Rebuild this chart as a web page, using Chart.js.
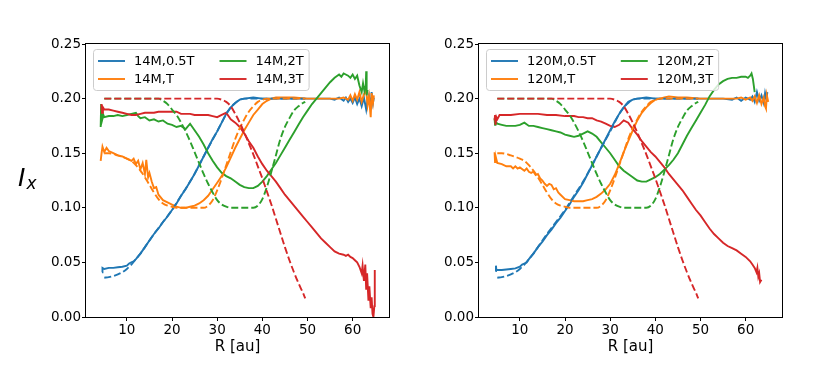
<!DOCTYPE html>
<html lang="en">
<head>
<meta charset="UTF-8">
<title>I_x radial profiles</title>
<script src="https://cdn.jsdelivr.net/npm/chart.js"></script>
<style>
  body { margin: 0; background: #fff; }
  #fig { position: relative; width: 831px; height: 366px; }
  .panel { position: absolute; top: 0; width: 393px; height: 366px; }
  #ylab { position: absolute; left: 18px; top: 165px; font: italic 25px "DejaVu Sans"; line-height: 25px; color: #000; }
  #ylab span { font-size: 17px; position: relative; top: 3px; left: 1px; }
</style>
</head>
<body>
<div id="fig">
  <div class="panel" style="left:0"><canvas id="left"></canvas></div>
  <div class="panel" style="left:393px"><canvas id="right"></canvas></div>
  <div id="ylab">I<span>x</span></div>
</div>
<script>
// axis ticks
const xTicks = [10, 20, 30, 40, 50, 60];
const yTicks = [0, 0.05, 0.10, 0.15, 0.20, 0.25];

// model profiles (dashed), [R au, I_x] - same in both panels
const model05T = [[5,0.036],[6,0.0365],[7,0.0375],[8,0.039],[9,0.041],[10,0.044],[11,0.048],[12,0.053],[13,0.058],[14,0.064],[15,0.070],[16,0.076],[18,0.087],[20,0.098],[22,0.111],[24,0.124],[26,0.139],[28,0.155],[30,0.170],[31,0.178],[32,0.186],[33,0.192],[34,0.196],[35,0.199],[36,0.200],[49.5,0.200]];
const modelT = [[5,0.150],[6,0.150],[8,0.148],[10,0.145],[11,0.143],[12,0.139],[13,0.134],[14,0.128],[15,0.121],[16,0.114],[17,0.108],[18,0.104],[19,0.102],[20,0.101],[21,0.100],[27,0.100],[28,0.102],[29,0.107],[30,0.116],[31,0.127],[32,0.139],[33,0.151],[34,0.163],[35,0.173],[36,0.181],[37,0.188],[38,0.193],[39,0.197],[40,0.199],[41,0.200],[49.5,0.200]];
const model2T = [[5,0.200],[17,0.200],[18,0.198],[19,0.195],[20,0.190],[21,0.185],[22,0.178],[23,0.170],[24,0.161],[25,0.151],[26,0.141],[27,0.131],[28,0.122],[29,0.114],[30,0.107],[31,0.103],[32,0.101],[33,0.100],[38,0.100],[39,0.102],[40,0.108],[41,0.119],[42,0.133],[43,0.148],[44,0.163],[45,0.174],[46,0.182],[47,0.189],[48,0.193],[49,0.196],[49.5,0.197]];
const model3T = [[5,0.200],[30,0.200],[31,0.199],[32,0.197],[33,0.193],[34,0.186],[35,0.178],[36,0.169],[37,0.159],[38,0.149],[39,0.138],[40,0.127],[41,0.115],[42,0.103],[43,0.090],[44,0.077],[45,0.064],[46,0.052],[47,0.041],[48,0.031],[49,0.022],[49.5,0.017]];

// 14M panel (solid)
const m14_05T = [[4.5,0.041],[4.6,0.045],[5,0.044],[6,0.045],[7,0.045],[8,0.0455],[9,0.046],[10,0.047],[10.5,0.049],[11,0.050],[11.5,0.051],[12,0.053],[13,0.058],[14,0.064],[15,0.070],[16,0.076],[17,0.081],[18,0.087],[19,0.092],[20,0.098],[21,0.104],[22,0.111],[23,0.117],[24,0.124],[25,0.131],[26,0.139],[27,0.147],[28,0.155],[29,0.163],[30,0.170],[31,0.178],[32,0.186],[33,0.192],[34,0.196],[35,0.199],[36,0.200],[38,0.201],[40,0.200],[45,0.200],[50,0.200],[55,0.200],[56,0.199],[57,0.201],[58,0.198],[58.5,0.201],[59,0.197],[59.5,0.200],[60,0.196],[60.5,0.201],[61,0.195],[61.5,0.200],[62,0.193],[62.5,0.201],[63,0.190],[63.3,0.199],[63.6,0.203],[64,0.190],[64.2,0.206],[64.5,0.196],[64.7,0.201]];
const m14_T = [[4.2,0.143],[4.4,0.150],[4.6,0.156],[5,0.151],[5.5,0.155],[6,0.152],[7,0.150],[8,0.148],[9,0.147],[10,0.145],[11,0.143],[11.5,0.145],[12,0.140],[12.5,0.143],[13,0.135],[13.5,0.141],[14,0.131],[14.3,0.144],[14.7,0.128],[15,0.132],[15.5,0.124],[16,0.118],[16.5,0.119],[17,0.112],[18,0.107],[19,0.105],[20,0.103],[21,0.101],[22,0.100],[23,0.100],[24,0.101],[25,0.102],[26,0.104],[27,0.107],[28,0.111],[29,0.117],[30,0.123],[31,0.129],[32,0.137],[33,0.146],[34,0.155],[35,0.163],[36,0.171],[37,0.178],[38,0.185],[39,0.190],[40,0.195],[41,0.198],[42,0.200],[43,0.201],[45,0.201],[47,0.201],[50,0.200],[55,0.200],[57,0.200],[58,0.201],[59,0.199],[59.5,0.203],[60,0.198],[60.5,0.204],[61,0.199],[61.5,0.206],[62,0.197],[62.5,0.204],[63,0.207],[63.3,0.194],[63.6,0.202],[64,0.183],[64.2,0.205],[64.5,0.196],[64.7,0.203]];
const m14_2T = [[4.2,0.174],[4.3,0.195],[4.5,0.180],[4.8,0.185],[5,0.183],[6,0.184],[7,0.184],[8,0.185],[9,0.184],[10,0.185],[11,0.186],[12,0.187],[12.5,0.184],[13,0.182],[14,0.183],[15,0.180],[16,0.181],[17,0.179],[18,0.180],[19,0.177],[20,0.176],[21,0.174],[22,0.175],[23,0.172],[24,0.177],[25,0.171],[26,0.165],[27,0.158],[28,0.150],[29,0.143],[30,0.137],[31,0.132],[32,0.129],[33,0.127],[34,0.124],[35,0.121],[36,0.119],[37,0.118],[38,0.118],[39,0.120],[40,0.124],[41,0.129],[42,0.135],[43,0.141],[44,0.148],[45,0.155],[46,0.162],[47,0.169],[48,0.176],[49,0.183],[50,0.189],[51,0.195],[52,0.200],[53,0.205],[54,0.210],[55,0.215],[56,0.219],[57,0.222],[57.5,0.220],[58,0.223],[59,0.221],[59.5,0.219],[60,0.222],[60.5,0.218],[61,0.221],[61.5,0.212],[62,0.206],[62.3,0.214],[62.6,0.207],[62.9,0.212],[63.0,0.225],[63.1,0.203],[63.3,0.208]];
const m14_3T = [[4.3,0.190],[4.4,0.195],[4.5,0.187],[4.7,0.192],[5,0.190],[6,0.190],[7,0.189],[8,0.188],[9,0.187],[10,0.186],[11,0.185],[12,0.185],[13,0.186],[14,0.187],[15,0.187],[16,0.187],[17,0.188],[18,0.188],[19,0.188],[20,0.188],[21,0.188],[22,0.186],[23,0.186],[24,0.186],[25,0.185],[26,0.185],[27,0.185],[28,0.185],[29,0.184],[30,0.183],[31,0.185],[32,0.187],[33,0.181],[34,0.178],[35,0.174],[36,0.168],[37,0.161],[38,0.155],[39,0.147],[40,0.140],[41,0.134],[42,0.129],[43,0.124],[44,0.118],[45,0.112],[46,0.107],[47,0.102],[48,0.097],[49,0.092],[50,0.087],[51,0.082],[52,0.077],[53,0.072],[54,0.068],[55,0.064],[56,0.060],[57,0.058],[58,0.057],[58.5,0.056],[59,0.057],[59.5,0.055],[60,0.054],[60.5,0.052],[61,0.050],[61.5,0.046],[62,0.040],[62.2,0.047],[62.5,0.033],[62.8,0.048],[63,0.025],[63.2,0.040],[63.5,0.015],[63.7,0.028],[64,0.008],[64.2,0.018],[64.4,0.003],[64.6,0.000],[64.8,0.010],[64.9,0.043]];

// 120M panel (solid)
const m120_05T = [[4.6,0.042],[4.7,0.047],[4.8,0.043],[5,0.043],[6,0.043],[7,0.0435],[8,0.044],[9,0.0445],[10,0.046],[10.5,0.048],[11,0.049],[11.5,0.050],[12,0.053],[13,0.058],[14,0.064],[15,0.069],[16,0.075],[17,0.080],[18,0.086],[19,0.091],[20,0.097],[21,0.103],[22,0.110],[23,0.116],[24,0.123],[25,0.131],[26,0.139],[27,0.147],[28,0.155],[29,0.163],[30,0.171],[31,0.179],[32,0.186],[33,0.192],[34,0.197],[35,0.199],[36,0.200],[38,0.201],[40,0.200],[45,0.200],[50,0.200],[55,0.200],[57,0.199],[58,0.201],[59,0.198],[60,0.201],[61,0.199],[61.5,0.202],[62,0.197],[62.5,0.206],[63,0.198],[63.5,0.203],[64,0.196],[64.3,0.205],[64.6,0.199],[64.8,0.206]];
const m120_T = [[4.4,0.151],[4.5,0.142],[4.7,0.146],[5,0.141],[6,0.140],[7,0.138],[8,0.138],[8.5,0.136],[9,0.138],[9.5,0.136],[10,0.137],[11,0.134],[11.5,0.136],[12,0.133],[12.5,0.132],[13,0.133],[13.5,0.130],[14,0.131],[14.5,0.127],[15,0.125],[15.5,0.122],[16,0.120],[16.5,0.122],[17,0.121],[17.5,0.117],[18,0.118],[18.5,0.114],[19,0.112],[20,0.108],[21,0.107],[22,0.106],[23,0.106],[24,0.106],[25,0.107],[26,0.108],[27,0.110],[28,0.113],[29,0.117],[30,0.122],[31,0.130],[32,0.140],[33,0.151],[34,0.161],[35,0.171],[36,0.180],[37,0.187],[38,0.192],[39,0.196],[40,0.199],[41,0.200],[42,0.201],[43,0.202],[45,0.201],[47,0.201],[50,0.200],[55,0.200],[58,0.200],[59,0.201],[60,0.199],[61,0.201],[61.5,0.198],[62,0.202],[62.5,0.196],[63,0.203],[63.5,0.195],[64,0.201],[64.3,0.193],[64.5,0.191],[64.7,0.203],[65,0.197]];
const m120_2T = [[4.4,0.182],[4.5,0.176],[4.6,0.179],[5,0.177],[6,0.176],[7,0.175],[8,0.175],[9,0.175],[10,0.176],[11,0.178],[12,0.175],[13,0.175],[14,0.174],[15,0.173],[16,0.172],[17,0.171],[18,0.170],[19,0.169],[20,0.167],[21,0.166],[22,0.165],[23,0.166],[24,0.168],[25,0.170],[26,0.168],[27,0.165],[28,0.160],[29,0.155],[30,0.150],[31,0.144],[32,0.138],[33,0.134],[34,0.131],[35,0.128],[36,0.125],[37,0.124],[38,0.124],[39,0.126],[40,0.128],[41,0.131],[42,0.135],[43,0.139],[44,0.144],[45,0.150],[46,0.158],[47,0.166],[48,0.173],[49,0.180],[50,0.187],[51,0.194],[52,0.202],[53,0.208],[54,0.213],[55,0.216],[56,0.218],[57,0.219],[58,0.219],[59,0.220],[60,0.220],[60.5,0.219],[61,0.221],[61.3,0.223],[61.6,0.218],[62,0.206]];
const m120_3T = [[4.4,0.180],[4.5,0.185],[4.6,0.176],[4.8,0.183],[5,0.181],[5.5,0.185],[6,0.185],[8,0.185],[10,0.186],[12,0.186],[14,0.186],[16,0.185],[18,0.185],[20,0.184],[22,0.184],[23,0.183],[24,0.183],[25,0.182],[26,0.182],[27,0.180],[28,0.179],[29,0.177],[30,0.175],[31,0.174],[32,0.176],[33,0.180],[34,0.178],[35,0.172],[36,0.167],[37,0.161],[38,0.156],[39,0.151],[40,0.147],[41,0.142],[42,0.137],[43,0.131],[44,0.126],[45,0.121],[46,0.116],[47,0.110],[48,0.104],[49,0.098],[50,0.093],[51,0.087],[52,0.081],[53,0.076],[54,0.072],[55,0.068],[56,0.065],[57,0.063],[58,0.061],[59,0.058],[60,0.055],[61,0.051],[61.5,0.048],[62,0.045],[62.4,0.041],[62.6,0.045],[62.8,0.037],[63,0.040],[63.2,0.032],[63.5,0.034]];

const labels14 = ['14M,0.5T', '14M,T', '14M,2T', '14M,3T'];
const labels120 = ['120M,0.5T', '120M,T', '120M,2T', '120M,3T'];
const models = [model05T, modelT, model2T, model3T];
const colors = ['#1f77b4', '#ff7f0e', '#2ca02c', '#d62728'];

Chart.defaults.font.family = '"DejaVu Sans", sans-serif';
Chart.defaults.font.size = 13.5;
Chart.defaults.color = '#000';

// box around the axes (all four spines)
const frame = {
  id: 'frame',
  afterDraw(chart) {
    const {ctx, chartArea: a} = chart;
    ctx.save();
    ctx.strokeStyle = '#000';
    ctx.lineWidth = 1;
    ctx.strokeRect(Math.round(a.left) - 0.5, Math.round(a.top) - 0.5, Math.round(a.right - a.left) + 1, Math.round(a.bottom - a.top) + 1);
    ctx.restore();
  }
};

// two-column legend inside the upper left corner
const legendBox = {
  id: 'legendBox',
  afterDatasetsDraw(chart, args, opts) {
    const {ctx, chartArea: a} = chart;
    const items = opts.items;
    ctx.save();
    ctx.font = '13px "DejaVu Sans"';
    const w = items.map(it => ctx.measureText(it.label).width);
    const col1 = Math.max(w[0], w[1]), col2 = Math.max(w[2], w[3]);
    const pad = 5, handle = 27, gap = 9, colGap = 25;
    const x0 = a.left + 7, y0 = a.top + 5;
    const boxW = pad + handle + gap + col1 + colGap + handle + gap + col2 + pad;
    const boxH = 41;
    ctx.beginPath();
    ctx.roundRect(x0 + 0.5, y0 + 0.5, boxW, boxH, 3);
    ctx.fillStyle = 'rgba(255,255,255,0.8)';
    ctx.fill();
    ctx.strokeStyle = '#cccccc';
    ctx.lineWidth = 1;
    ctx.stroke();
    items.forEach((it, i) => {
      const col = i < 2 ? 0 : 1, row = i % 2;
      const lx = x0 + pad + col * (handle + gap + col1 + colGap);
      const ly = y0 + 12 + row * 18;
      ctx.beginPath();
      ctx.moveTo(lx, ly);
      ctx.lineTo(lx + handle, ly);
      ctx.strokeStyle = it.color;
      ctx.lineWidth = 1.9;
      ctx.stroke();
      ctx.fillStyle = '#000';
      ctx.textBaseline = 'middle';
      ctx.fillText(it.label, lx + handle + gap, ly + 1);
    });
    ctx.restore();
  }
};

const toXY = arr => arr.map(p => ({x: p[0], y: p[1]}));

function makePanel(id, solids, labels) {
  const datasets = [];
  solids.forEach((s, i) => datasets.push({
    label: labels[i], data: toXY(s), borderColor: colors[i], borderWidth: 1.9,
    pointRadius: 0, fill: false, tension: 0
  }));
  models.forEach((m, i) => datasets.push({
    label: labels[i] + ' model', data: toXY(m), borderColor: colors[i], borderWidth: 1.9,
    borderDash: [7, 3], pointRadius: 0, fill: false, cubicInterpolationMode: 'monotone'
  }));
  // later datasets are drawn on top, as in the original plot
  datasets.forEach((d, i) => { d.order = datasets.length - i; });

  const tickGrid = { display: true, drawOnChartArea: false, drawTicks: true, tickLength: 4, color: '#000', lineWidth: 1 };

  new Chart(document.getElementById(id), {
    type: 'line',
    data: { datasets },
    options: {
      responsive: true,
      maintainAspectRatio: false,
      animation: false,
      layout: { padding: { top: 44, right: 4, left: 0, bottom: 0 } },
      plugins: {
        legend: { display: false },
        tooltip: { enabled: false },
        legendBox: { items: labels.map((l, i) => ({label: l, color: colors[i]})) }
      },
      scales: {
        x: {
          type: 'linear', min: 0.95, max: 68.05,
          afterBuildTicks: s => { s.ticks = xTicks.map(v => ({value: v})); },
          afterFit: s => { s.height = 49; },
          grid: tickGrid,
          border: { display: false },
          ticks: { padding: 1, maxRotation: 0, color: '#000', callback: v => String(v) },
          title: { display: true, text: 'R [au]', color: '#000', font: { size: 15 }, padding: { top: 0, bottom: 10 } }
        },
        y: {
          type: 'linear', min: 0, max: 0.25,
          afterBuildTicks: s => { s.ticks = yTicks.map(v => ({value: v})); },
          afterFit: s => { s.width = 86; },
          grid: tickGrid,
          border: { display: false },
          ticks: { padding: 1, color: '#000', callback: v => Number(v).toFixed(2) }
        }
      }
    },
    plugins: [frame, legendBox]
  });
}

makePanel('left', [m14_05T, m14_T, m14_2T, m14_3T], labels14);
makePanel('right', [m120_05T, m120_T, m120_2T, m120_3T], labels120);
</script>
</body>
</html>
